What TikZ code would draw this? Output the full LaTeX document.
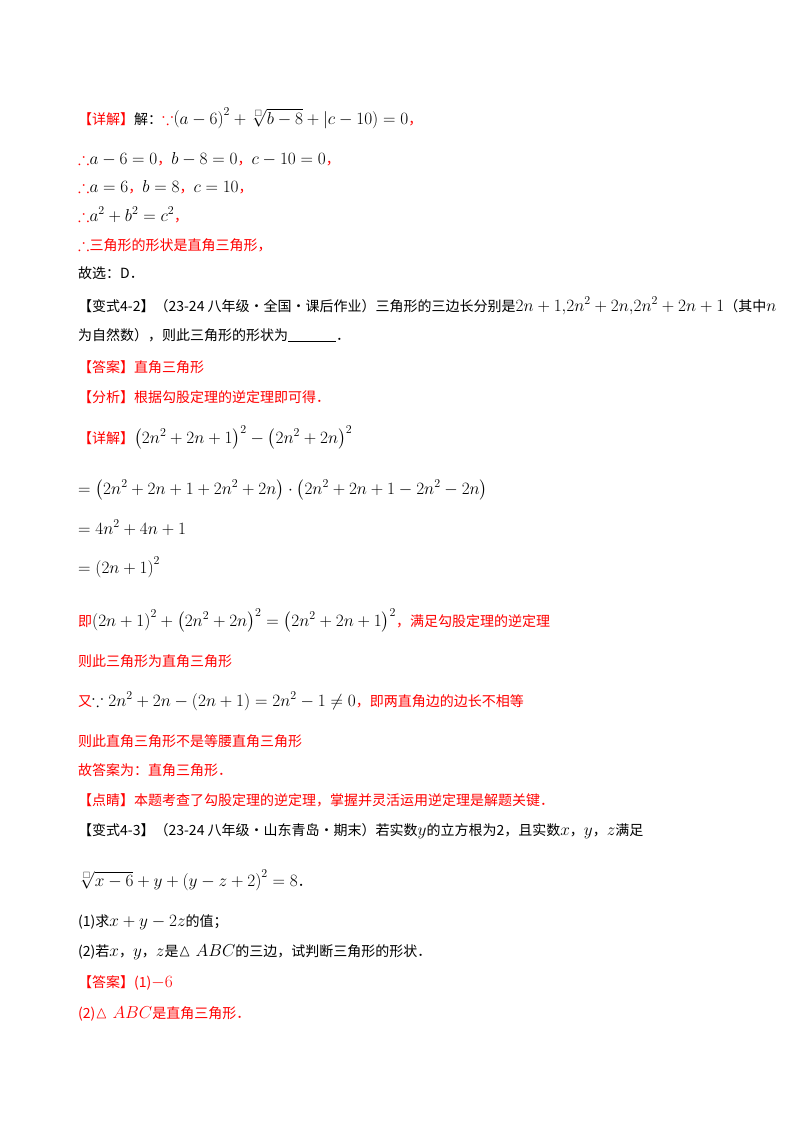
\documentclass[tikz,border=0pt]{standalone}
\usepackage{amsmath,amssymb}
\usepackage{fontspec}
\setmainfont{Liberation Serif}
\newfontfamily\cjk{Noto Sans CJK SC}
\DeclareMathSizes{14}{17}{12}{9}
\definecolor{rd}{RGB}{255,0,0}
\newcommand{\bx}{\scriptscriptstyle\square}
\tikzset{ln/.style={anchor=base west,inner sep=0pt,font=\fontsize{14pt}{16pt}\selectfont\cjk}}
\begin{document}
\begin{tikzpicture}[x=1pt,y=-1pt]
\useasboundingbox[fill=white] (0,0) rectangle (800,1132);
\def\X{78}
\node[ln] (l1) at (\X,124) {\textcolor{rd}{【详解】}解：\textcolor{rd}{$\because$}$\left(a-6\right)^2+\sqrt[\bx]{b-8}+\left|c-10\right)=0$\textcolor{rd}{，}};
\node[ln] (l2) at (\X,164) {\textcolor{rd}{$\therefore$}$a-6=0$\textcolor{rd}{，}$b-8=0$\textcolor{rd}{，}$c-10=0$\textcolor{rd}{，}};
\node[ln] (l3) at (\X,192) {\textcolor{rd}{$\therefore$}$a=6$\textcolor{rd}{，}$b=8$\textcolor{rd}{，}$c=10$\textcolor{rd}{，}};
\node[ln] (l4) at (\X,221) {\textcolor{rd}{$\therefore$}$a^2+b^2=c^2$\textcolor{rd}{，}};
\node[ln,text=rd] (l5) at (\X,250) {$\therefore$三角形的形状是直角三角形，};
\node[ln] (l6) at (\X,278) {故选：D．};
\node[ln] (l7) at (\X,311) {【变式4-2】（23-24 八年级·全国·课后作业）三角形的三边长分别是$2n+1{,}2n^2+2n{,}2n^2+2n+1$（其中$n$};
\node[ln] (l8) at (\X,340) {为自然数），则此三角形的形状为\rule[-2pt]{48pt}{0.8pt}．};
\node[ln,text=rd] (l9) at (\X,372) {【答案】直角三角形};
\node[ln,text=rd] (l10) at (\X,402) {【分析】根据勾股定理的逆定理即可得．};
\node[ln] (l11) at (\X,443) {\textcolor{rd}{【详解】}$\left(2n^2+2n+1\right)^2-\left(2n^2+2n\right)^2$};
\node[ln] (l12) at (\X,494) {$=\left(2n^2+2n+1+2n^2+2n\right)\cdot\left(2n^2+2n+1-2n^2-2n\right)$};
\node[ln] (l13) at (\X,534) {$=4n^2+4n+1$};
\node[ln] (l14) at (\X,573) {$=\left(2n+1\right)^2$};
\node[ln,text=rd] (l15) at (\X,626) {即\textcolor{black}{$\left(2n+1\right)^2+\left(2n^2+2n\right)^2=\left(2n^2+2n+1\right)^2$}，满足勾股定理的逆定理};
\node[ln,text=rd] (l16) at (\X,666) {则此三角形为直角三角形};
\node[ln,text=rd] (l17) at (\X,706) {又\textcolor{black}{$\because 2n^2+2n-\left(2n+1\right)=2n^2-1\neq0$}，即两直角边的边长不相等};
\node[ln,text=rd] (l18) at (\X,746) {则此直角三角形不是等腰直角三角形};
\node[ln,text=rd] (l19) at (\X,775) {故答案为：直角三角形．};
\node[ln,text=rd] (l20) at (\X,805) {【点睛】本题考查了勾股定理的逆定理，掌握并灵活运用逆定理是解题关键．};
\node[ln] (l21) at (\X,835) {【变式4-3】（23-24 八年级·山东青岛·期末）若实数$y$的立方根为2，且实数$x$，$y$，$z$满足};
\node[ln] (l22) at (\X,886) {$\sqrt[\bx]{x-6}+y+\left(y-z+2\right)^2=8$．};
\node[ln] (l23) at (\X,926) {(1)求$x+y-2z$的值；};
\node[ln] (l24) at (\X,956) {(2)若$x$，$y$，$z$是$\vartriangle ABC$的三边，试判断三角形的形状．};
\node[ln,text=rd] (l25) at (\X,987) {【答案】(1)$-6$};
\node[ln,text=rd] (l26) at (\X,1018) {(2)$\vartriangle ABC$是直角三角形．};
\end{tikzpicture}
\end{document}
